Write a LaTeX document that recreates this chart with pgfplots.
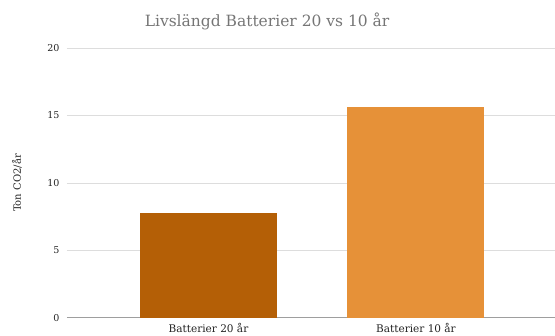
\documentclass[border=0pt]{standalone}
\usepackage{pgfplots}
\pgfplotsset{compat=1.18}
\usepackage{fontspec}
\setmainfont{DejaVu Serif}
\definecolor{barA}{HTML}{B45F06}
\definecolor{barB}{HTML}{E69138}
\definecolor{titlegray}{HTML}{757575}
\definecolor{gridgray}{HTML}{DDDDDD}
\definecolor{zerogray}{HTML}{9E9E9E}
\definecolor{labelgray}{HTML}{222222}
\begin{document}
\begin{tikzpicture}[x=1pt,y=1pt]
\path[use as bounding box] (0,0) rectangle (555,336);
\begin{axis}[
  at={(67pt,18pt)}, anchor=south west,
  scale only axis, width=488pt, height=270pt,
  xmin=-0.682, xmax=1.67, ymin=0, ymax=20,
  ybar, bar width=137pt,
  xtick={0,1}, xticklabels={Batterier 20 år, Batterier 10 år},
  ytick={5,10,15,20},
  extra y ticks={0},
  extra y tick style={grid style={color=zerogray, line width=1pt}},
  ymajorgrids, grid style={color=gridgray, line width=0.9pt},
  axis line style={draw=none},
  tick style={draw=none},
  /pgf/number format/assume math mode=true,
  yticklabel style={font=\fontsize{9.5}{10}\selectfont, text=labelgray, anchor=east, xshift=-4pt},
  xticklabel style={font=\fontsize{10.5}{12}\selectfont, text=labelgray, anchor=base, yshift=-10pt},
  ylabel={Ton CO2/år},
  ylabel style={at={(axis description cs:-0.1025,0.5)}, anchor=center, font=\fontsize{10}{12}\selectfont, text=labelgray},
  title={Livslängd Batterier 20 vs 10 år},
  title style={at={(0.41,1)}, anchor=base, yshift=15pt, font=\fontsize{15.5}{18}\selectfont, text=titlegray},
]
\addplot[fill=barA, draw=none, bar shift=0pt] coordinates {(0,7.78)};
\addplot[fill=barB, draw=none, bar shift=0pt] coordinates {(1,15.63)};
\end{axis}
\end{tikzpicture}
\end{document}
